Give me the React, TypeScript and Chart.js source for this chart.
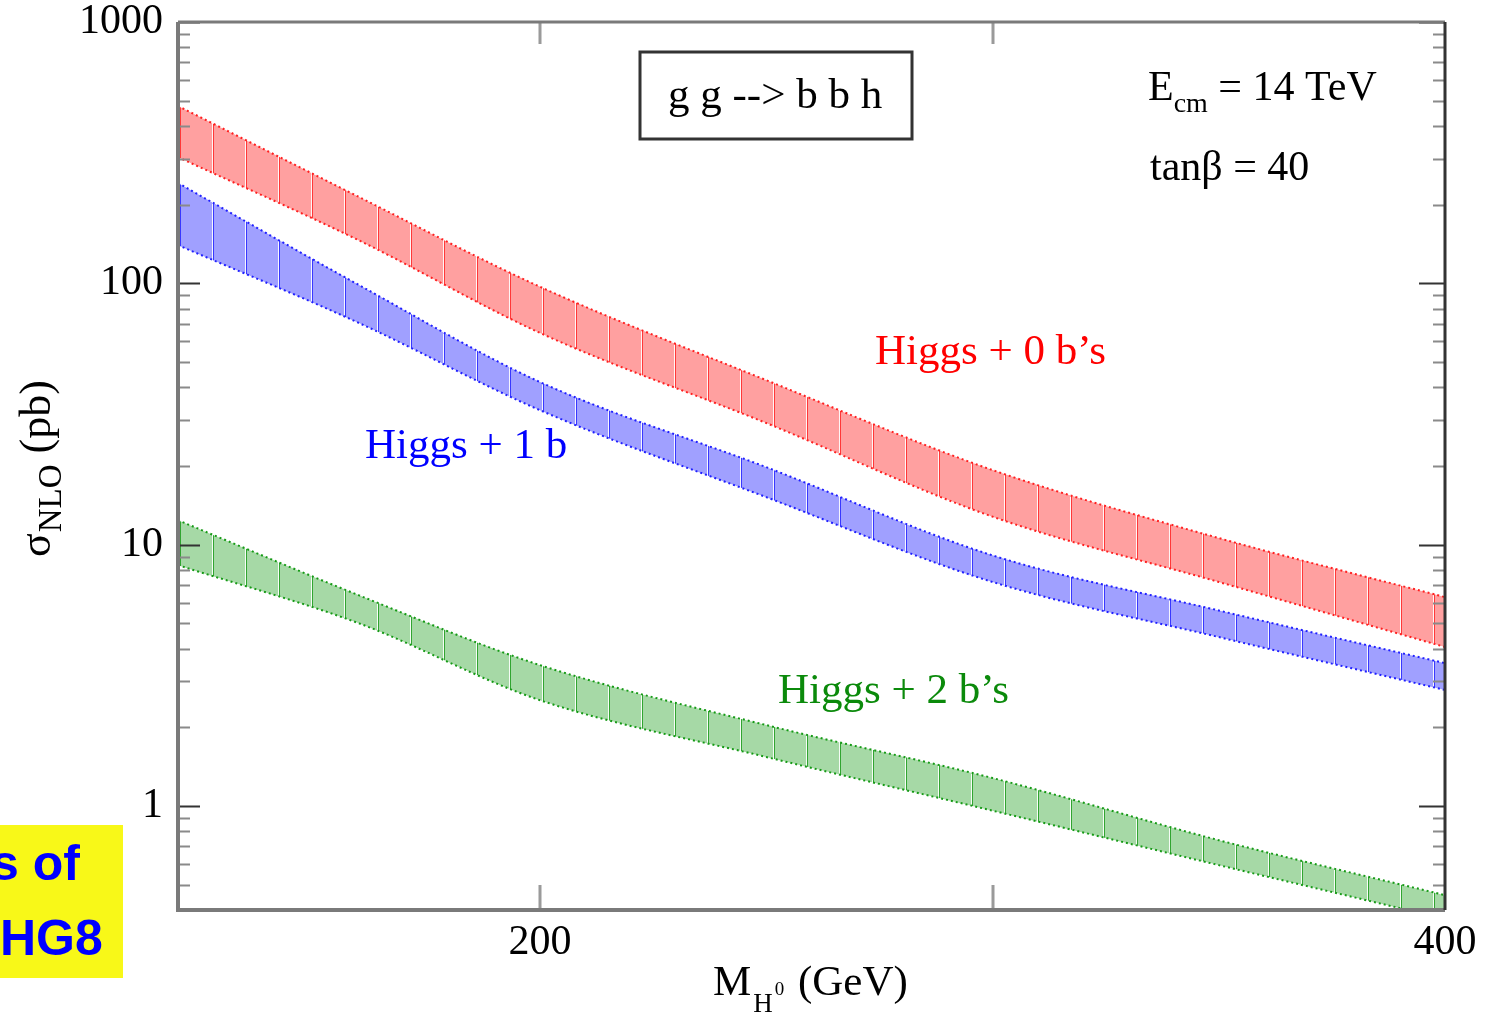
import React, { useEffect, useRef } from "react";
import { Chart, registerables } from "chart.js";

Chart.register(...registerables);

// ---- data ----
const massGeV = [120, 160, 200, 250, 300, 350, 400];
const zeroB_upper = [477, 214, 97, 42.6, 19.3, 10.6, 6.3];
const zeroB_lower = [304, 146, 64.6, 29.2, 12.8, 7.2, 4.06];
const oneB_upper = [242, 98.5, 41.9, 19.8, 9.1, 5.6, 3.52];
const oneB_lower = [140, 70.5, 32.7, 15.2, 7.2, 4.43, 2.78];
const twoB_upper = [12.4, 6.4, 3.46, 2.04, 1.28, 0.74, 0.456];
const twoB_lower = [8.35, 5.0, 2.54, 1.54, 0.96, 0.594, 0.37];

const yTickValues = [1, 10, 100, 1000];
const xTickLabels = [200, 400];
const xTickMarks = [200, 300];
const minorDecades = [0.1, 1, 10, 100];

const SERIF = '"Liberation Serif", "Times New Roman", serif';

function makePattern(ctx: CanvasRenderingContext2D, fill: string, line: string) {
  const c = document.createElement("canvas");
  c.width = 33;
  c.height = 4;
  const g = c.getContext("2d")!;
  g.fillStyle = fill;
  g.fillRect(0, 0, 33, 4);
  g.fillStyle = "rgba(255,255,255,0.9)";
  g.fillRect(0, 0, 1, 4);
  g.fillStyle = line;
  g.fillRect(1, 0, 1, 4);
  const p = ctx.createPattern(c, "repeat")!;
  try {
    p.setTransform(new DOMMatrix().translate(14, 0));
  } catch (e) {}
  return p;
}

const decorPlugin = {
  id: "decor",
  afterDraw(chart: any) {
    const { ctx, chartArea: a, scales } = chart;
    const x = scales.x;
    const y = scales.y;
    ctx.save();

    // minor log ticks
    ctx.lineWidth = 2;
    ctx.strokeStyle = "#8a8a8a";
    for (const d of minorDecades) {
      for (let m = 2; m <= 9; m++) {
        const v = m * d;
        if (v < 0.4 || v > 1000) continue;
        const py = Math.round(y.getPixelForValue(v)) + 0.5;
        ctx.beginPath();
        ctx.moveTo(a.left, py);
        ctx.lineTo(a.left + 12, py);
        ctx.moveTo(a.right, py);
        ctx.lineTo(a.right - 12, py);
        ctx.stroke();
      }
    }
    // major log ticks
    ctx.strokeStyle = "#333";
    ctx.lineWidth = 2;
    for (const v of yTickValues) {
      const py = Math.round(y.getPixelForValue(v)) + 0.5;
      ctx.beginPath();
      ctx.moveTo(a.left, py);
      ctx.lineTo(a.left + 22, py);
      ctx.moveTo(a.right, py);
      ctx.lineTo(a.right - 26, py);
      ctx.stroke();
    }
    // x ticks
    ctx.strokeStyle = "#9a9a9a";
    ctx.lineWidth = 3;
    for (const v of xTickMarks) {
      const px = Math.round(x.getPixelForValue(v));
      ctx.beginPath();
      ctx.moveTo(px, a.bottom);
      ctx.lineTo(px, a.bottom - 25);
      ctx.moveTo(px, a.top);
      ctx.lineTo(px, a.top + 22);
      ctx.stroke();
    }

    // frame
    ctx.strokeStyle = "#7a7a7a";
    ctx.lineWidth = 4;
    ctx.beginPath();
    ctx.moveTo(a.left, a.top);
    ctx.lineTo(a.left, a.bottom);
    ctx.lineTo(a.right, a.bottom);
    ctx.stroke();
    ctx.lineWidth = 3;
    ctx.beginPath();
    ctx.moveTo(a.left, a.top);
    ctx.lineTo(a.right, a.top);
    ctx.stroke();
    ctx.strokeStyle = "#333";
    ctx.beginPath();
    ctx.moveTo(a.right, a.top);
    ctx.lineTo(a.right, a.bottom);
    ctx.stroke();

    // process box
    ctx.strokeStyle = "#333";
    ctx.lineWidth = 3;
    ctx.strokeRect(640, 52, 272, 87);
    ctx.fillStyle = "#000";
    ctx.textBaseline = "alphabetic";
    ctx.textAlign = "left";
    ctx.font = `43px ${SERIF}`;
    ctx.fillText("g g --> b b h", 668, 108);

    // E_cm and tan beta
    ctx.font = `42px ${SERIF}`;
    ctx.fillText("E", 1148, 100);
    let w = ctx.measureText("E").width;
    ctx.font = `28px ${SERIF}`;
    ctx.fillText("cm", 1148 + w, 112);
    w += ctx.measureText("cm").width;
    ctx.font = `42px ${SERIF}`;
    ctx.fillText(" = 14 TeV", 1148 + w, 100);
    ctx.fillText("tan\u03b2 = 40", 1150, 180);

    // series labels
    ctx.font = `43px ${SERIF}`;
    ctx.fillStyle = "#ff0000";
    ctx.fillText("Higgs + 0 b\u2019s", 875, 364);
    ctx.fillStyle = "#0000ff";
    ctx.fillText("Higgs + 1 b", 365, 458);
    ctx.fillStyle = "#0b8a0b";
    ctx.fillText("Higgs + 2 b\u2019s", 778, 703);

    // x title: M_{H^0} (GeV)
    ctx.fillStyle = "#000";
    ctx.font = `43px ${SERIF}`;
    let xx = 713;
    ctx.fillText("M", xx, 995);
    xx += ctx.measureText("M").width + 2;
    ctx.font = `27px ${SERIF}`;
    ctx.fillText("H", xx, 1012);
    xx += ctx.measureText("H").width + 2;
    ctx.font = `19px ${SERIF}`;
    ctx.fillText("0", xx, 995);
    xx += ctx.measureText("0").width + 3;
    ctx.font = `43px ${SERIF}`;
    ctx.fillText(" (GeV)", xx, 995);

    // y title: sigma_NLO (pb), rotated
    ctx.save();
    ctx.translate(50, 557);
    ctx.rotate(-Math.PI / 2);
    ctx.font = `44px ${SERIF}`;
    ctx.fillText("\u03c3", 0, 0);
    let yw = ctx.measureText("\u03c3").width + 1;
    ctx.font = `33px ${SERIF}`;
    ctx.fillText("NLO", yw, 11);
    yw += ctx.measureText("NLO").width;
    ctx.font = `44px ${SERIF}`;
    ctx.fillText(" (pb)", yw, 0);
    ctx.restore();

    ctx.restore();
  },
};

export default function App() {
  const ref = useRef<HTMLCanvasElement>(null);

  useEffect(() => {
    const canvas = ref.current!;
    const ctx = canvas.getContext("2d")!;
    const redPat = makePattern(ctx, "#ffa0a0", "rgba(255,30,30,0.8)");
    const bluePat = makePattern(ctx, "#a0a0ff", "rgba(30,30,255,0.8)");
    const greenPat = makePattern(ctx, "#a6d9a6", "rgba(20,150,20,0.8)");
    const pts = (ys: number[]) => massGeV.map((m, i) => ({ x: m, y: ys[i] }));
    const edge = (color: string) => ({
      borderColor: color,
      borderWidth: 2,
      borderDash: [2, 3],
      pointRadius: 0,
      cubicInterpolationMode: "monotone" as const,
    });

    const chart = new Chart(ctx, {
      type: "line",
      data: {
        datasets: [
          { label: "0b upper", data: pts(zeroB_upper), ...edge("#ff2020"), fill: false },
          { label: "0b lower", data: pts(zeroB_lower), ...edge("#ff2020"), fill: "-1", backgroundColor: redPat },
          { label: "1b upper", data: pts(oneB_upper), ...edge("#2020ff"), fill: false },
          { label: "1b lower", data: pts(oneB_lower), ...edge("#2020ff"), fill: "-1", backgroundColor: bluePat },
          { label: "2b upper", data: pts(twoB_upper), ...edge("#169a16"), fill: false },
          { label: "2b lower", data: pts(twoB_lower), ...edge("#169a16"), fill: "-1", backgroundColor: greenPat },
        ],
      },
      options: {
        animation: false,
        responsive: false,
        maintainAspectRatio: false,
        layout: { padding: { top: 22, right: 50, left: 0, bottom: 0 } },
        plugins: { legend: { display: false }, tooltip: { enabled: false } },
        scales: {
          x: {
            type: "linear",
            min: 120,
            max: 400,
            grid: { display: false },
            border: { display: false },
            afterBuildTicks: (s: any) => {
              s.ticks = xTickLabels.map((v) => ({ value: v }));
            },
            afterFit: (s: any) => {
              s.height = 104;
              s.paddingLeft = 0;
              s.paddingRight = 0;
            },
            ticks: {
              autoSkip: false,
              maxRotation: 0,
              padding: 4,
              color: "#000",
              font: { family: SERIF, size: 42, lineHeight: 1 },
              callback: (v: any) => String(v),
            },
          },
          y: {
            type: "logarithmic",
            min: 0.4,
            max: 1000,
            grid: { display: false },
            border: { display: false },
            afterBuildTicks: (s: any) => {
              s.ticks = yTickValues.map((v) => ({ value: v }));
            },
            afterFit: (s: any) => {
              s.width = 178;
              s.paddingTop = 0;
              s.paddingBottom = 0;
            },
            ticks: {
              autoSkip: false,
              padding: 7,
              color: "#000",
              font: { family: SERIF, size: 42, lineHeight: 1 },
              callback: (v: any) => String(v),
            },
          },
        },
      },
      plugins: [decorPlugin],
    });
    return () => chart.destroy();
  }, []);

  return (
    <div style={{ position: "absolute", left: 0, top: 0, width: 1495, height: 1014, background: "#fff" }}>
      <canvas ref={ref} width={1495} height={1014} style={{ display: "block", width: 1495, height: 1014 }} />
      <div
        style={{
          position: "absolute",
          left: 0,
          top: 825,
          width: 123,
          height: 153,
          background: "#f8f818",
          overflow: "hidden",
          fontFamily: '"Liberation Sans", Arial, sans-serif',
          fontWeight: "bold",
          fontSize: 50,
          color: "#0000ff",
        }}
      >
        <div style={{ position: "absolute", left: -9, top: 13, lineHeight: "50px", whiteSpace: "nowrap" }}>s of</div>
        <div style={{ position: "absolute", left: 0, top: 88, lineHeight: "50px", whiteSpace: "nowrap" }}>HG8</div>
      </div>
    </div>
  );
}
